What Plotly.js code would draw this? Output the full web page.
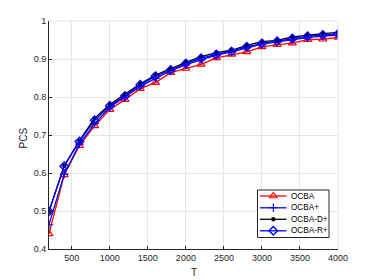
<!DOCTYPE html>
<html><head><meta charset="utf-8">
<script src="https://cdn.plot.ly/plotly-3.0.1.min.js"></script>
<style>html,body{margin:0;padding:0;background:#fff;}#c{width:374px;height:280px;}</style>
</head><body><div id="c"></div>
<script>
const T = [200,400,600,800,1000,1200,1400,1600,1800,2000,2200,2400,2600,2800,3000,3200,3400,3600,3800,4000];
const ocba  = [0.440,0.595,0.672,0.724,0.767,0.793,0.822,0.838,0.864,0.875,0.886,0.903,0.912,0.919,0.932,0.938,0.942,0.951,0.952,0.957];
const ocbaP = [0.464,0.597,0.676,0.730,0.773,0.800,0.828,0.849,0.869,0.885,0.897,0.910,0.919,0.930,0.939,0.945,0.951,0.956,0.960,0.963];
const ocbaD = [0.499,0.619,0.685,0.744,0.780,0.808,0.835,0.858,0.875,0.891,0.906,0.917,0.923,0.936,0.946,0.949,0.958,0.963,0.967,0.970];
const ocbaR = [0.499,0.618,0.683,0.739,0.777,0.803,0.832,0.855,0.871,0.888,0.902,0.912,0.920,0.932,0.941,0.947,0.954,0.960,0.963,0.966];
const names = ['OCBA','OCBA+','OCBA-D+','OCBA-R+'];
const xTicks = [500,1000,1500,2000,2500,3000,3500,4000];
const yTicks = [0.4,0.5,0.6,0.7,0.8,0.9,1];
const yTickText = ['0.4','0.5','0.6','0.7','0.8','0.9','1'];
const xTitle = 'T';
const yTitle = 'PCS';

const series = [ocba, ocbaP, ocbaD, ocbaR];
const styles = [
  {line:{color:'#ff0000',width:1.3},marker:{symbol:'triangle-up-open',size:7,color:'#ff0000',line:{width:1.2,color:'#ff0000'}}},
  {line:{color:'#0000ff',width:1.3},marker:{symbol:'cross-thin-open',size:6,color:'#0000ff',line:{width:1.1,color:'#0000ff'}}},
  {line:{color:'#000000',width:1.3},marker:{symbol:'circle',size:4.5,color:'#000000',line:{width:0}}},
  {line:{color:'#0000ff',width:1.3},marker:{symbol:'diamond-open',size:6.5,color:'#0000ff',line:{width:1.4,color:'#0000ff'}}}
];
const traces = [];
series.forEach((s,i)=>{
  traces.push({x:T,y:s,name:names[i],mode:'lines+markers',showlegend:false,line:styles[i].line,marker:styles[i].marker});
});
// compact legend drawn on an overlay axis measured in pixels
const box = {x0:257.5,x1:329,y0:190,y1:237.5};
const bx = [box.x0,box.x1,box.x1,box.x0,box.x0], by = [box.y0,box.y0,box.y1,box.y1,box.y0];
traces.push({x:bx,y:by,xaxis:'x2',yaxis:'y2',mode:'lines',fill:'toself',fillcolor:'#ffffff',line:{color:'#ffffff',width:0},showlegend:false,hoverinfo:'skip'});
traces.push({x:bx,y:by,xaxis:'x2',yaxis:'y2',mode:'lines',line:{color:'#262626',width:1},showlegend:false,hoverinfo:'skip',cliponaxis:false});
const legRowY = [196,207.8,219.3,230.8];
const annotations = [];
legRowY.forEach((ry,i)=>{
  traces.push({x:[260,286.5],y:[ry,ry],xaxis:'x2',yaxis:'y2',mode:'lines',showlegend:false,line:styles[i].line,hoverinfo:'skip'});
  traces.push({x:[273.3],y:[ry],xaxis:'x2',yaxis:'y2',mode:'markers',showlegend:false,marker:styles[i].marker,hoverinfo:'skip'});
  annotations.push({xref:'x2',yref:'y2',x:288.5,y:ry,text:names[i],showarrow:false,xanchor:'left',yanchor:'middle',font:{size:8.2,color:'#000'}});
});
const pxX = v => (v-49)/289, pxY = v => (249-v)/228;
annotations.push({xref:'paper',yref:'paper',x:pxX(194),y:pxY(272),text:xTitle,showarrow:false,xanchor:'center',yanchor:'middle',font:{size:10,color:'#262626'}});
annotations.push({xref:'paper',yref:'paper',x:pxX(22.5),y:pxY(138),text:yTitle,showarrow:false,textangle:-90,xanchor:'center',yanchor:'middle',font:{size:10,color:'#262626'}});
const layout = {
  width:374,height:280,
  margin:{l:49,r:36,t:21,b:31},
  paper_bgcolor:'#fff',plot_bgcolor:'#fff',
  font:{family:'Liberation Sans, Arial, sans-serif',size:9,color:'#262626'},
  showlegend:false,
  xaxis:{range:[200,4000],tickvals:xTicks,showgrid:true,gridcolor:'#e6e6e6',gridwidth:1,zeroline:false,automargin:false,
    showline:true,linecolor:'#262626',linewidth:1,ticks:'inside',ticklen:3,tickcolor:'#262626',mirror:false,
    tickfont:{size:9,color:'#262626'}},
  yaxis:{range:[0.4,1],tickvals:yTicks,ticktext:yTickText,showgrid:true,gridcolor:'#e6e6e6',gridwidth:1,zeroline:false,automargin:false,
    showline:true,linecolor:'#262626',linewidth:1,ticks:'inside',ticklen:3,tickcolor:'#262626',
    tickfont:{size:9,color:'#262626'}},
  xaxis2:{overlaying:'x',range:[49,338],visible:false,fixedrange:true},
  yaxis2:{overlaying:'y',range:[249,21],visible:false,fixedrange:true},
  annotations:annotations,
  shapes:[
    {type:'line',xref:'paper',yref:'paper',x0:0,x1:1,y0:1,y1:1,line:{color:'#e6e6e6',width:1}},
    {type:'line',xref:'paper',yref:'paper',x0:1,x1:1,y0:0,y1:1,line:{color:'#e6e6e6',width:1}}
  ]
};
Plotly.newPlot('c',traces,layout,{displayModeBar:false,staticPlot:true});
</script></body></html>
